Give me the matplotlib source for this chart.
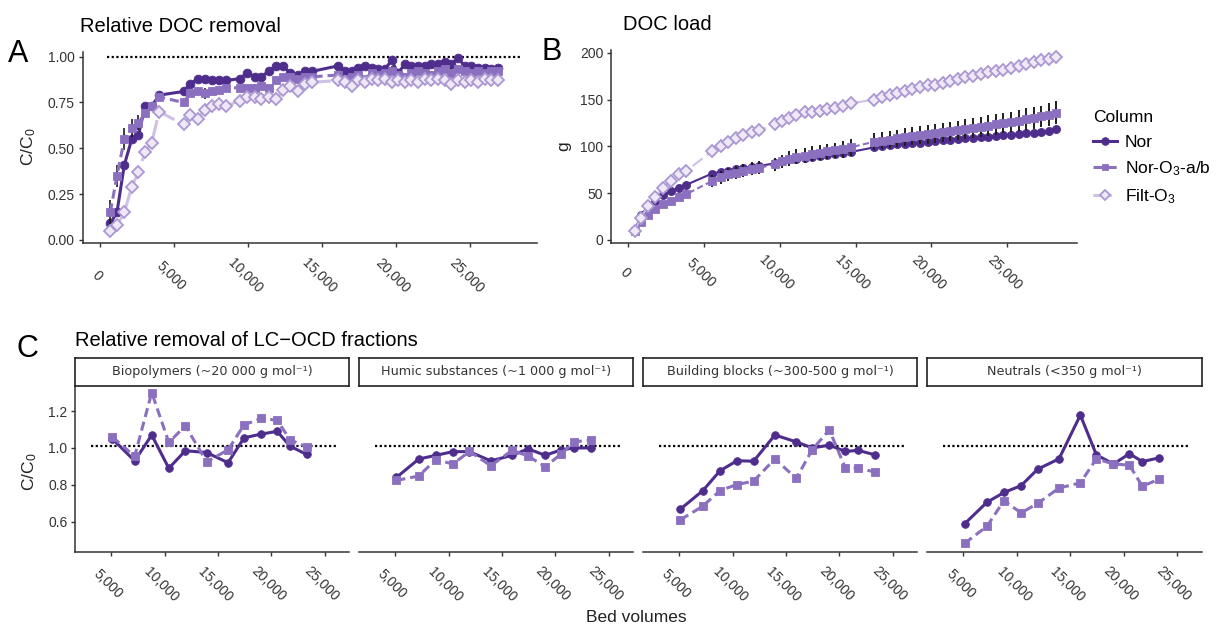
import matplotlib
matplotlib.use("Agg")
import matplotlib.pyplot as plt
import matplotlib.transforms as mtransforms
from matplotlib.lines import Line2D
from matplotlib.ticker import FuncFormatter

plt.rcParams['font.family'] = ['Liberation Sans', 'DejaVu Sans']
plt.rcParams['mathtext.fontset'] = 'custom'
plt.rcParams['mathtext.rm'] = 'Liberation Sans'
plt.rcParams['mathtext.it'] = 'Liberation Sans:italic'

# ---- panel A: relative DOC removal (C/C0) ----
a_bv = [700, 1150, 1650, 2150, 2600, 3050, 3500, 4000,
        5650, 6100, 6600, 7100, 7550, 8050, 8550,
        9450, 9950, 10450, 10900, 11400, 11900, 12400, 12850, 13350, 13850, 14350,
        16100, 16550, 17000, 17450, 17900, 18350, 18800, 19250, 19700, 20150,
        20600, 21050, 21500, 21950, 22400, 22850, 23300, 23750, 24200, 24650,
        25100, 25550, 26000, 26450, 26900]
a_nor = [0.09, 0.15, 0.41, 0.55, 0.57, 0.73, 0.73, 0.79,
         0.81, 0.85, 0.88, 0.88, 0.87, 0.87, 0.87,
         0.88, 0.91, 0.89, 0.89, 0.92, 0.95, 0.95, 0.91, 0.90, 0.92, 0.92,
         0.95, 0.92, 0.92, 0.94, 0.95, 0.94, 0.93, 0.93, 0.98, 0.91,
         0.96, 0.95, 0.95, 0.95, 0.96, 0.96, 0.97, 0.96, 0.99, 0.95,
         0.95, 0.94, 0.94, 0.93, 0.94]
a_o3 = [0.15, 0.35, 0.55, 0.61, 0.64, 0.69, 0.73, 0.78,
        0.75, 0.80, 0.81, 0.80, 0.81, 0.82, 0.83,
        0.83, 0.83, 0.83, 0.84, 0.83, 0.87, 0.89, 0.89, 0.88, 0.89, 0.89,
        0.90, 0.88, 0.89, 0.90, 0.88, 0.91, 0.90, 0.91, 0.92, 0.90,
        0.89, 0.91, 0.92, 0.91, 0.90, 0.92, 0.93, 0.91, 0.93, 0.92,
        0.91, 0.92, 0.91, 0.92, 0.92]
a_o3_err = [0.07, 0.06, 0.06, 0.05, 0.04, 0.02, 0.02, 0.01,
            0.01, 0.02, 0.02, 0.03, 0.02, 0.01, 0.01,
            0.01, 0.01, 0.02, 0.01, 0.01, 0.02, 0.01, 0.01, 0.02, 0.01, 0.01,
            0.01, 0.02, 0.01, 0.01, 0.02, 0.01, 0.01, 0.02, 0.03, 0.02,
            0.01, 0.02, 0.01, 0.01, 0.02, 0.01, 0.02, 0.03, 0.01, 0.02,
            0.01, 0.01, 0.02, 0.01, 0.01]
a_filt = [0.05, 0.08, 0.15, 0.29, 0.37, 0.48, 0.53, 0.70,
          0.63, 0.68, 0.66, 0.71, 0.73, 0.74, 0.73,
          0.76, 0.78, 0.78, 0.77, 0.78, 0.77, 0.82, 0.84, 0.81, 0.85, 0.86,
          0.87, 0.86, 0.84, 0.87, 0.86, 0.88, 0.87, 0.88, 0.86, 0.87,
          0.86, 0.87, 0.86, 0.88, 0.87, 0.88, 0.87, 0.85, 0.87, 0.86,
          0.87, 0.86, 0.88, 0.87, 0.87]
a_ref_span = [450, 28450]

# ---- panel B: DOC load (g) ----
b_bv = [450, 850, 1300, 1800, 2300, 2850, 3350, 3850,
        5550, 6100, 6600, 7100, 7600, 8150, 8650,
        9700, 10150, 10600, 11100, 11650, 12150, 12650, 13150, 13650, 14150, 14700,
        16250, 16750, 17250, 17750, 18250, 18750, 19250, 19750, 20250, 20750,
        21250, 21750, 22250, 22750, 23250, 23750, 24250, 24750, 25250, 25750,
        26250, 26750, 27250, 27750, 28250]
b_nor = [10, 27, 35, 42, 48, 52, 56, 59,
         71, 73, 74, 76, 77, 78, 79,
         82, 84, 86, 87, 88, 89, 90, 91, 92, 93, 94,
         99, 100, 101, 102, 103, 103.5, 104, 105, 106, 106.5,
         107, 108, 108.5, 109, 110, 110.5, 111, 112, 112.5, 113,
         114, 114.5, 115, 116, 118]
b_o3 = [10, 19, 27, 33, 38, 42, 46, 49,
        63, 67, 70, 72, 74, 76, 77,
        81, 84, 87, 89, 90, 92, 93, 95, 96, 97, 99,
        105, 106, 107, 108.5, 110, 111, 112, 113, 114, 115,
        116, 117, 118.5, 119.5, 121, 122, 123.5, 125, 126, 127.5,
        129, 130.5, 132, 134, 136]
b_o3_err = [1, 2, 2, 3, 3, 3, 4, 4,
            6, 7, 7, 7, 7, 7, 7,
            7, 7, 8, 8, 8, 8, 8, 8, 8, 9, 9,
            9, 9, 9, 9, 9.5, 9.5, 10, 10, 10, 10,
            10, 10.5, 10.5, 10.5, 10.5, 11, 11, 11, 11, 11,
            11.5, 11.5, 11.5, 12, 12]
b_filt = [10, 24, 36, 46, 56, 63, 70, 74,
          95, 100, 105, 109, 112, 115, 117,
          124, 127, 130, 134, 137, 137, 138, 140, 141, 143, 146,
          150, 153, 155, 157, 159, 161, 163, 165, 166, 168,
          170, 172, 174, 175, 177, 179, 181, 182, 184, 186,
          188, 190, 192, 193, 195]

# ---- panel C: LC-OCD fractions ----
c_bv = [5100, 7200, 8800, 10400, 11950, 13950, 15950, 17450, 19050, 20550, 21750, 23300]
c_titles = ['Biopolymers (~20 000 g mol⁻¹)', 'Humic substances (~1 000 g mol⁻¹)',
            'Building blocks (~300-500 g mol⁻¹)', 'Neutrals (<350 g mol⁻¹)']
bio_nor = [1.05, 0.93, 1.07, 0.89, 0.985, 0.975, 0.92, 1.055, 1.075, 1.09, 1.01, 0.965]
bio_o3 = [1.06, 0.955, 1.30, 1.03, 1.12, 0.925, 0.99, 1.125, 1.16, 1.15, 1.045, 1.005]
hum_nor = [0.84, 0.94, 0.96, 0.98, 0.98, 0.93, 0.96, 0.995, 0.96, 0.99, 1.0, 1.0]
hum_o3 = [0.824, 0.848, 0.937, 0.913, 0.981, 0.904, 0.987, 0.956, 0.898, 0.968, 1.033, 1.043]
bb_nor = [0.669, 0.769, 0.876, 0.931, 0.928, 1.070, 1.033, 1.0, 1.015, 0.981, 0.987, 0.963]
bb_o3 = [0.611, 0.685, 0.769, 0.802, 0.820, 0.941, 0.835, 0.991, 1.098, 0.891, 0.891, 0.870]
neu_nor = [0.589, 0.706, 0.759, 0.796, 0.885, 0.941, 1.178, 0.963, 0.913, 0.969, 0.926, 0.946]
neu_o3 = [0.483, 0.576, 0.715, 0.648, 0.700, 0.783, 0.811, 0.941, 0.913, 0.907, 0.793, 0.830]
c_nor = [bio_nor, hum_nor, bb_nor, neu_nor]
c_o3 = [bio_o3, hum_o3, bb_o3, neu_o3]
c_ref_span = [3100, 26100]
c_ref_level = 1.013

labels = ['Nor', 'Nor-O$_3$-a/b', 'Filt-O$_3$']

# ---- styles ----
DARK = '#4e2d8c'
MID = '#8c70c0'
NOR = dict(color=DARK, ls='-', marker='o', mfc=DARK, mec=DARK, mew=0.6)
O3 = dict(color=MID, ls=(0, (3, 1.6)), marker='s', mfc=MID, mec=MID, mew=0.6)
FILT = dict(color='#cdc1e4', ls=(0, (6, 2.5)), marker='D', mfc='#efe9f7', mec='#ab98d3', mew=1.3)
AXCOL = '#333333'
TXT = '#333333'
W, H = 1223, 628


def box(l, t, r, b):
    return [l / W, 1 - b / H, (r - l) / W, (b - t) / H]


def fpos(x, y):
    return x / W, 1 - y / H


thousands = FuncFormatter(lambda v, p: f'{int(v):,}')

fig = plt.figure(figsize=(W / 100, H / 100), dpi=100)
shift = mtransforms.ScaledTranslation(-3 / 100, 0, fig.dpi_scale_trans)


def style_axis(ax, xticks, pad, left=True):
    ax.set_xticks(xticks)
    ax.xaxis.set_major_formatter(thousands)
    for s in ['top', 'right']:
        ax.spines[s].set_visible(False)
    for s in ['left', 'bottom']:
        ax.spines[s].set_color(AXCOL)
        ax.spines[s].set_linewidth(1.1)
    ax.tick_params(direction='out', length=3, width=1, colors=AXCOL,
                   labelcolor=TXT, labelsize=10)
    ax.tick_params(axis='x', labelrotation=-45, pad=pad)
    ax.tick_params(axis='y', pad=2.5)
    if not left:
        ax.spines['left'].set_visible(False)
        ax.tick_params(axis='y', left=False, labelleft=False)
    for lab in ax.get_xticklabels():
        lab.set_ha('center')
        lab.set_va('center')
        lab.set_transform(lab.get_transform() + shift)


# ---- A ----
axA = fig.add_axes(box(82.6, 51.7, 537, 242.7))
axA.plot(a_ref_span, [1, 1], color='black', lw=1.6, ls=(0, (1, 1.1)))
axA.plot(a_bv, a_nor, lw=2.2, ms=6.3, **NOR)
axA.errorbar(a_bv, a_o3, yerr=a_o3_err, fmt='none', ecolor='#1e1e1e', elinewidth=1.2)
axA.plot(a_bv, a_o3, lw=2.2, ms=5.8, **O3)
axA.plot(a_bv, a_filt, lw=2.2, ms=5.8, **FILT)
axA.set_xlim(-1170, 29530)
axA.set_ylim(-0.015, 1.027)
axA.set_yticks([0, 0.25, 0.5, 0.75, 1.0])
style_axis(axA, [0, 5000, 10000, 15000, 20000, 25000], 21)

# ---- B ----
axB = fig.add_axes(box(610.9, 50, 1076.6, 242.7))
axB.plot(b_bv, b_nor, lw=1.5, ms=5.8, **NOR)
axB.errorbar(b_bv, b_o3, yerr=b_o3_err, fmt='none', ecolor='#1e1e1e', elinewidth=1.4)
axB.plot(b_bv, b_o3, lw=1.5, ms=5.5, **O3)
axB.plot(b_bv, b_filt, lw=1.5, ms=5.8, **FILT)
axB.set_xlim(-1130, 29580)
axB.set_ylim(-2.9, 202.9)
axB.set_yticks([0, 50, 100, 150, 200])
style_axis(axB, [0, 5000, 10000, 15000, 20000, 25000], 18.5)

handles = [Line2D([], [], lw=2.2, ms=5.5, **NOR),
           Line2D([], [], lw=2.2, ms=5, **O3),
           Line2D([], [], lw=2.2, ms=5, **FILT)]
fig.legend(handles, labels, loc='upper left', bbox_to_anchor=fpos(1093, 110),
           frameon=False, title='Column', fontsize=12.5, title_fontsize=12.5,
           handlelength=1.4, labelspacing=0.55, handletextpad=0.45,
           borderpad=0, borderaxespad=0, alignment='left')

# ---- C ----
lefts = [75.1, 359.2, 643.3, 927.4]
for i, l in enumerate(lefts):
    ax = fig.add_axes(box(l, 387, l + 274.1, 552.3))
    ax.plot(c_ref_span, [c_ref_level, c_ref_level], color='black', lw=1.6, ls=(0, (1, 1.1)))
    ax.plot(c_bv, c_nor[i], lw=2.2, ms=5.5, **NOR)
    ax.plot(c_bv, c_o3[i], lw=2.2, ms=5.5, **O3)
    ax.set_xlim(1620, 27300)
    ax.set_ylim(0.435, 1.33)
    ax.set_yticks([0.6, 0.8, 1.0, 1.2])
    style_axis(ax, [5000, 10000, 15000, 20000, 25000], 20, left=(i == 0))
    st = fig.add_axes(box(l, 358.3, l + 274.1, 385.7))
    st.set_xticks([])
    st.set_yticks([])
    for s in st.spines.values():
        s.set_color('#222222')
        s.set_linewidth(1.2)
    st.text(0.5, 0.5, c_titles[i], ha='center', va='center', fontsize=9.2,
            family='DejaVu Sans', color='#333333', transform=st.transAxes)

# ---- titles and labels ----
fig.text(*fpos(8, 62), 'A', fontsize=22, va='baseline')
fig.text(*fpos(542, 60), 'B', fontsize=22, va='baseline')
fig.text(*fpos(17, 357), 'C', fontsize=22, va='baseline')
fig.text(*fpos(80, 26), 'Relative DOC removal', fontsize=14.5, va='center')
fig.text(*fpos(623, 25), 'DOC load', fontsize=14.5, va='center')
fig.text(*fpos(75, 340), 'Relative removal of LC\u2212OCD fractions', fontsize=14.5, va='center')
fig.text(*fpos(29, 147), 'C/C$_0$', fontsize=12.5, rotation=90, ha='center', va='center', color='#222222')
fig.text(*fpos(564, 146), 'g', fontsize=12.5, rotation=90, ha='center', va='center', color='#222222')
fig.text(*fpos(30, 472), 'C/C$_0$', fontsize=12.5, rotation=90, ha='center', va='center', color='#222222')
fig.text(*fpos(636, 618), 'Bed volumes', fontsize=12.5, ha='center', va='center', color='#222222')

fig.savefig('out.png', dpi=100)
